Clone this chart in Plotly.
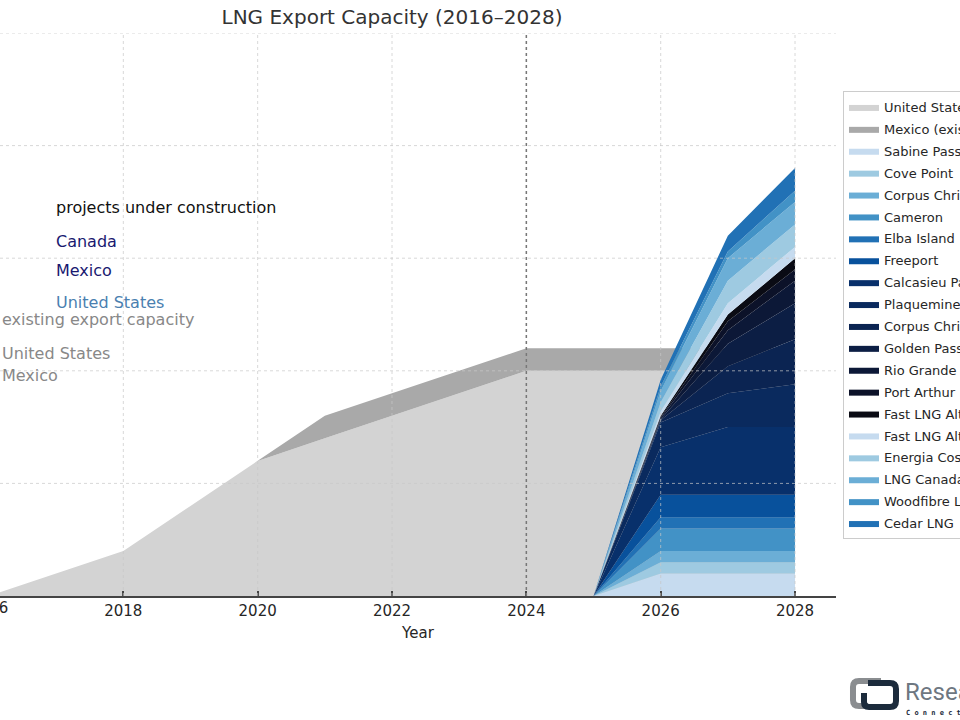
import plotly.graph_objects as go

# Existing export capacity, 2016-2028
years = list(range(2016, 2029))
us_existing = [0, 1, 2, 4, 6, 7, 8, 9, 10, 10, 10, 10, 10]
mexico_existing = [0, 0, 0, 0, 0, 1, 1, 1, 1, 1, 1, 1, 1]

# Projects under construction, 2025-2028
project_years = [2025, 2026, 2027, 2028]
project_names = [
    "Sabine Pass", "Cove Point", "Corpus Christi", "Cameron", "Elba Island",
    "Freeport", "Calcasieu Pass", "Plaquemines", "Corpus Christi Stage 3",
    "Golden Pass", "Rio Grande", "Port Arthur", "Fast LNG Altamira",
    "Fast LNG Altamira 2", "Energia Costa Azul", "LNG Canada",
    "Woodfibre LNG", "Cedar LNG",
]
project_values = [
    [0, 1.0, 1.0, 1.0],
    [0, 0.5, 0.5, 0.5],
    [0, 0.5, 0.5, 0.5],
    [0, 1.0, 1.0, 1.0],
    [0, 0.5, 0.5, 0.5],
    [0, 1.0, 1.0, 1.0],
    [0, 2.1, 3.0, 3.0],
    [0, 1.1, 1.5, 1.9],
    [0, 0.1, 1.2, 2.0],
    [0, 0.05, 1.0, 1.6],
    [0, 0.05, 0.6, 1.0],
    [0, 0.05, 0.4, 0.5],
    [0, 0.05, 0.3, 0.5],
    [0, 0.2, 0.5, 0.5],
    [0, 0.4, 1.0, 1.0],
    [0, 0.5, 1.0, 1.0],
    [0, 0.2, 0.3, 0.5],
    [0, 0.3, 0.7, 1.0],
]
project_colors = [
    "#c6dbef", "#9ecae1", "#6baed6", "#4292c6", "#2171b5", "#08519c",
    "#08306b", "#0a2a5e", "#0b2452", "#0c1e44", "#0c1837", "#0c1229",
    "#0a0b14",
    "#c6dbef", "#9ecae1", "#6baed6", "#4292c6", "#2171b5",
]

x_ticks = [2018, 2020, 2022, 2024, 2026, 2028]
y_grid = [5, 10, 15, 20, 25]
x_range = [2016.164, 2028.61]
y_range = [0, 25]

font = "DejaVu Sans"

fig = go.Figure()

fig.add_trace(go.Scatter(
    x=years, y=us_existing, name="United States (existing)",
    stackgroup="existing", mode="lines", line=dict(width=0),
    fillcolor="#d3d3d3", legendgroup="us_ex",
))
fig.add_trace(go.Scatter(
    x=years, y=mexico_existing, name="Mexico (existing)",
    stackgroup="existing", mode="lines", line=dict(width=0),
    fillcolor="#a9a9a9", legendgroup="mx_ex",
))

for name, vals, col in zip(project_names, project_values, project_colors):
    fig.add_trace(go.Scatter(
        x=project_years, y=vals, name=name,
        stackgroup="projects", mode="lines", line=dict(width=0),
        fillcolor=col, legendgroup=name,
    ))

# dotted grid drawn over the areas
shapes = []
for v in y_grid:
    shapes.append(dict(type="line", xref="paper", x0=0, x1=1, yref="y", y0=v, y1=v,
                       line=dict(color="rgba(200,200,200,0.7)", width=1, dash="dot"),
                       layer="above"))
for t in x_ticks:
    shapes.append(dict(type="line", xref="x", x0=t, x1=t, yref="paper", y0=0, y1=1,
                       line=dict(color="rgba(200,200,200,0.7)", width=1, dash="dot"),
                       layer="above"))
shapes.append(dict(type="line", xref="x", x0=2024, x1=2024, yref="paper", y0=0, y1=1,
                   line=dict(color="#777777", width=1.5, dash="dot"), layer="above"))


# logo in the corner (pixel -> paper helper)
def px(xp, yp):
    return f"{xp / 836:.5f},{(596 - yp) / 563:.5f}"


gray_path = (f"M {px(881, 681)} L {px(859, 681)} Q {px(853, 681)} {px(853, 687)} "
             f"L {px(853, 700)} Q {px(853, 706)} {px(859, 706)} L {px(868, 706)}")
navy_path = (f"M {px(868, 683)} L {px(890, 683)} Q {px(896, 683)} {px(896, 689)} "
             f"L {px(896, 701)} Q {px(896, 707)} {px(890, 707)} L {px(869, 707)} "
             f"Q {px(864, 707)} {px(864, 702)} L {px(864, 693)}")
shapes.append(dict(type="path", xref="paper", yref="paper", path=gray_path,
                   line=dict(color="#8a8d90", width=6)))
shapes.append(dict(type="path", xref="paper", yref="paper", path=navy_path,
                   line=dict(color="#1c2b3c", width=6)))

annotations = []
labels = [
    ("projects under construction", 2016.97, 17.27, "#111111"),
    ("Canada", 2016.97, 15.73, "#191970"),
    ("Mexico", 2016.97, 14.45, "#191970"),
    ("United States", 2016.97, 13.05, "#4a7fb0"),
    ("existing export capacity", 2016.164, 12.26, "#888888"),
    ("United States", 2016.164, 10.79, "#888888"),
    ("Mexico", 2016.164, 9.77, "#888888"),
]
for text, x, y, col in labels:
    annotations.append(dict(text=text, x=x, y=y, xref="x", yref="y",
                            xanchor="left", yanchor="middle", showarrow=False,
                            font=dict(family=font, size=16, color=col)))

# 2016 tick label sits mostly outside the visible area
annotations.append(dict(text="2016", xref="paper", yref="paper",
                        x=(2016 - x_range[0]) / (x_range[1] - x_range[0]), y=-0.0213,
                        xanchor="center", yanchor="middle", showarrow=False,
                        font=dict(family=font, size=15, color="#262626")))

annotations.append(dict(text="Research Nester", xref="paper", yref="paper",
                        x=903 / 836, y=(596 - 692) / 563, xanchor="left", yanchor="middle",
                        showarrow=False,
                        font=dict(family="Roboto", size=24, color="#6e7781")))
annotations.append(dict(text="<b>C o n n e c t .  L e a r n</b>", xref="paper", yref="paper",
                        x=904 / 836, y=(596 - 713) / 563, xanchor="left", yanchor="middle",
                        showarrow=False,
                        font=dict(family="DejaVu Sans Mono", size=7, color="#1c2b3c")))

fig.update_layout(
    width=960, height=720,
    margin=dict(l=0, r=124, t=33, b=124, autoexpand=False),
    paper_bgcolor="white", plot_bgcolor="white",
    font=dict(family=font, color="#262626"),
    title=dict(text="LNG Export Capacity (2016–2028)", x=392 / 960, xref="container",
               xanchor="center", y=1 - 17 / 720, yref="container", yanchor="middle",
               font=dict(family=font, size=20, color="#333333")),
    xaxis=dict(range=x_range, tickvals=x_ticks, ticks="inside", ticklen=5,
               tickwidth=1.5, tickcolor="#444444", showline=True, linecolor="#444444",
               linewidth=2, showgrid=False, zeroline=False,
               tickfont=dict(family=font, size=15, color="#262626"),
               title=dict(text="Year", font=dict(family=font, size=15, color="#262626"),
                          standoff=8)),
    yaxis=dict(range=y_range, showticklabels=False, showgrid=False, zeroline=False,
               showline=False, ticks=""),
    legend=dict(x=843 / 836, y=(596 - 91) / 563, xanchor="left", yanchor="top",
                font=dict(family=font, size=13, color="#262626"),
                bgcolor="white", bordercolor="#cccccc", borderwidth=1,
                traceorder="grouped", tracegroupgap=2),
    shapes=shapes,
    annotations=annotations,
    showlegend=True,
)

fig.write_html("out.html", config={"displayModeBar": False},
               post_script="document.body.style.margin='0';")
